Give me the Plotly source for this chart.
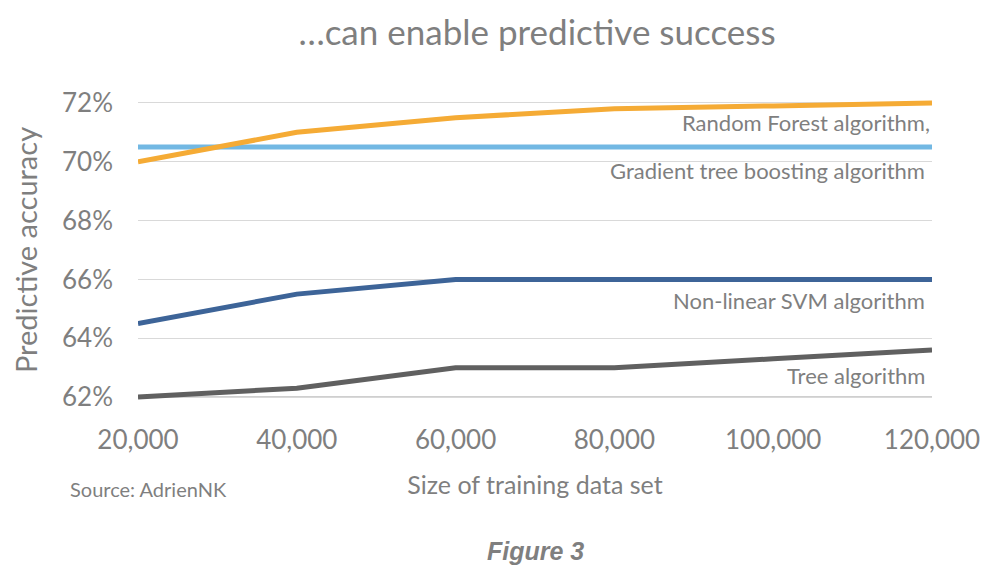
import plotly.graph_objects as go

sizes = [20000, 40000, 60000, 80000, 100000, 120000]
random_forest = [70.0, 71.0, 71.5, 71.8, 71.9, 72.0]
gradient_boost = [70.5, 70.5, 70.5, 70.5, 70.5, 70.5]
svm = [64.5, 65.5, 66.0, 66.0, 66.0, 66.0]
tree = [62.0, 62.3, 63.0, 63.0, 63.3, 63.6]
y_ticks = [62, 64, 66, 68, 70, 72]
x_ticks = [20000, 40000, 60000, 80000, 100000, 120000]
x_tick_labels = ["20,000", "40,000", "60,000", "80,000", "100,000", "120,000"]

series = [
    ("Gradient tree boosting algorithm", gradient_boost, "#72B8E3"),
    ("Random Forest algorithm,", random_forest, "#F5AB35"),
    ("Non-linear SVM algorithm", svm, "#3D6498"),
    ("Tree algorithm", tree, "#606060"),
]

TXT = "#7F7F7F"
FONT = "Lato"

fig = go.Figure()
for name, vals, col in series:
    fig.add_trace(go.Scatter(x=sizes, y=vals, mode="lines", name=name,
                             line=dict(color=col, width=5), hoverinfo="skip"))

# darker baseline at 62%
fig.add_shape(type="line", xref="paper", x0=0, x1=1, yref="y", y0=62, y1=62,
              line=dict(color="#BFBFBF", width=1.5), layer="below")

labels = [
    ("Random Forest algorithm,", 71.32, 0),
    ("Gradient tree boosting algorithm", 69.72, -5),
    ("Non-linear SVM algorithm", 65.28, -5),
    ("Tree algorithm", 62.75, -5),
]
for text, yv, xs in labels:
    fig.add_annotation(x=120000, y=yv, xref="x", yref="y", text=text,
                       showarrow=False, xanchor="right", yanchor="middle", xshift=xs,
                       font=dict(family=FONT, size=22, color=TXT))

fig.add_annotation(x=-0.088, y=-0.297, xref="paper", yref="paper", text="Source: AdrienNK",
                   showarrow=False, xanchor="left", yanchor="middle",
                   font=dict(family=FONT, size=20, color=TXT))

fig.add_annotation(x=0.5, y=-0.503, xref="paper", yref="paper", text="<b><i>Figure 3</i></b>",
                   showarrow=False, xanchor="center", yanchor="middle",
                   font=dict(family="Liberation Sans", size=25, color=TXT))

fig.update_layout(
    width=1000, height=586,
    margin=dict(l=130, r=76, t=92, b=194),
    paper_bgcolor="white", plot_bgcolor="white",
    showlegend=False,
    title=dict(text="…can enable predictive success", x=0.529, xanchor="center",
               y=0.957, yanchor="middle",
               font=dict(family=FONT, size=35, color=TXT)),
    xaxis=dict(range=[20000, 120000], tickvals=x_ticks, ticktext=x_tick_labels,
               showgrid=False, zeroline=False, showline=False,
               tickfont=dict(family=FONT, size=26, color=TXT),
               ticks="", ticklabelstandoff=22,
               title=dict(text="Size of training data set", standoff=22,
                          font=dict(family=FONT, size=25, color=TXT))),
    yaxis=dict(range=[61.9, 72.1], tickvals=y_ticks,
               ticktext=[f"{v}%" for v in y_ticks],
               showgrid=True, gridcolor="#D9D9D9", gridwidth=1,
               zeroline=False, showline=False, ticks="",
               ticklabelstandoff=24,
               tickfont=dict(family=FONT, size=26, color=TXT),
               title=dict(text="Predictive accuracy", standoff=16,
                          font=dict(family=FONT, size=29, color=TXT))),
)

fig.write_html("out.html")
